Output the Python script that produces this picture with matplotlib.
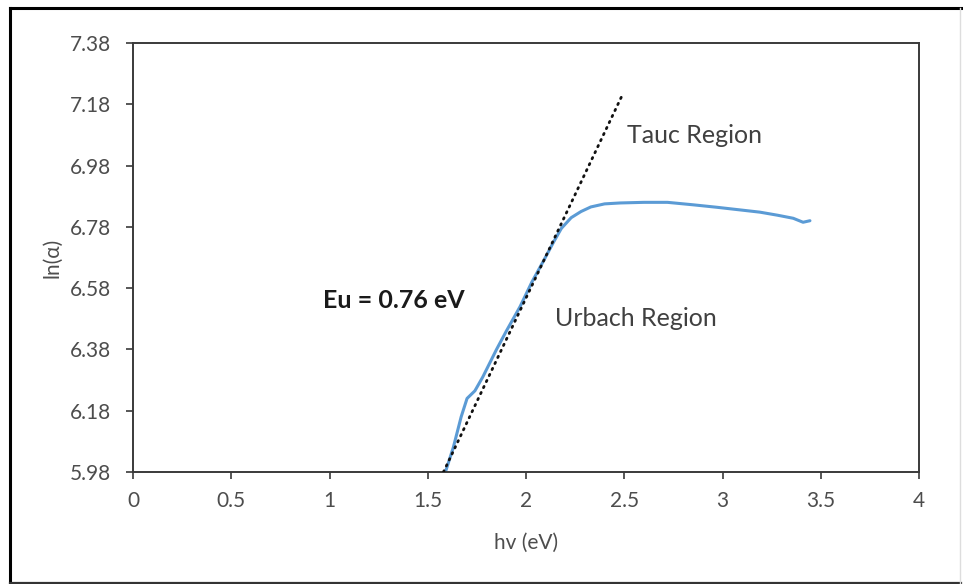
import matplotlib
matplotlib.use('Agg')
import matplotlib.pyplot as plt
from matplotlib.lines import Line2D

plt.rcParams['font.family'] = ['Lato', 'DejaVu Sans']

# measured absorption curve
hv = [1.59, 1.63, 1.67, 1.70, 1.74, 1.78, 1.85, 1.90, 1.97, 2.03, 2.09, 2.14,
      2.18, 2.23, 2.28, 2.33, 2.40, 2.48, 2.60, 2.72, 2.85, 2.97, 3.08, 3.19,
      3.28, 3.36, 3.41, 3.445]
ln_alpha = [5.98, 6.06, 6.16, 6.22, 6.245, 6.29, 6.38, 6.44, 6.52, 6.60, 6.67, 6.73,
            6.775, 6.81, 6.83, 6.845, 6.855, 6.858, 6.86, 6.86, 6.852, 6.844, 6.836, 6.828,
            6.818, 6.808, 6.795, 6.80]

# linear fit (Urbach tail)
fit_x = [1.58, 2.49]
fit_y = [5.98, 7.21]

yticks = [5.98, 6.18, 6.38, 6.58, 6.78, 6.98, 7.18, 7.38]
xticks = [0, 0.5, 1, 1.5, 2, 2.5, 3, 3.5, 4]
xtick_labels = ['0', '0.5', '1', '1.5', '2', '2.5', '3', '3.5', '4']

W, H = 963, 584
fig = plt.figure(figsize=(W / 100, H / 100), dpi=100)
ax = fig.add_axes([133 / W, 1 - 472 / H, (919 - 133) / W, (472 - 43) / H])

ax.plot(hv, ln_alpha, color='#5B9BD5', lw=2.2, solid_capstyle='round', zorder=2)
ax.plot(fit_x, fit_y, color='#111111', lw=2.0, dashes=(0.5, 1.9),
        dash_capstyle='round', zorder=3)

ax.set_xlim(0, 4)
ax.set_ylim(5.98, 7.38)
ax.set_xticks(xticks)
ax.set_xticklabels(xtick_labels)
ax.set_yticks(yticks)
ax.set_yticklabels([f'{v:.2f}' for v in yticks])

for s in ax.spines.values():
    s.set_color('#3a3a3a')
    s.set_linewidth(1.4)
ax.tick_params(axis='both', direction='out', length=5, width=1.2, color='#3a3a3a',
               labelsize=15, labelcolor='#4d4d4d')
ax.tick_params(axis='x', pad=9)
ax.tick_params(axis='y', pad=11)

ax.set_xlabel('hv (eV)', fontsize=15, color='#4d4d4d', va='center')
ax.xaxis.set_label_coords(0.5, -(543 - 472) / 429)
ax.set_ylabel('ln(α)', fontsize=15, color='#4d4d4d', va='center', ha='center')
ax.yaxis.set_label_coords((52 - 133) / 786, 0.5)

ax.text(2.514, 7.079, 'Tauc Region', fontsize=18, color='#404040', va='center')
ax.text(2.148, 6.481, 'Urbach Region', fontsize=18, color='#404040', va='center')
ax.text(0.967, 6.54, 'Eu = 0.76 eV', fontsize=18, color='#1a1a1a',
        fontweight='bold', va='center')

# outer chart frame
fx = lambda p: p / W
fy = lambda p: 1 - p / H
fig.add_artist(Line2D([fx(10), fx(10)], [fy(8), fy(583)], color='black', lw=2.2))
fig.add_artist(Line2D([fx(10), fx(961)], [fy(8), fy(8)], color='black', lw=2.2))
fig.add_artist(Line2D([fx(10), fx(961)], [fy(583), fy(583)], color='#333333', lw=1.6))
fig.add_artist(Line2D([fx(960), fx(960)], [fy(8), fy(583)], color='#dddddd', lw=1.0))

fig.savefig('out.png', dpi=100)
